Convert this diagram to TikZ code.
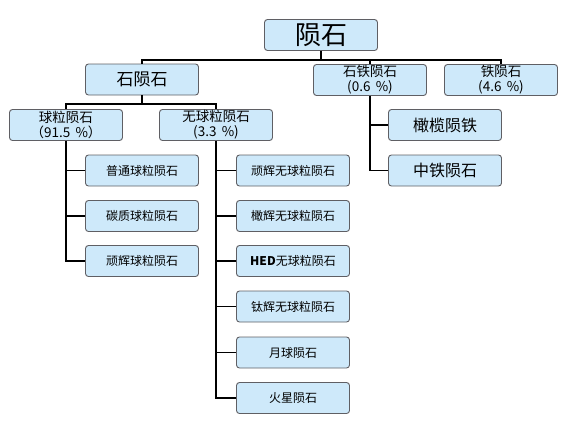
\documentclass[tikz,border=0pt]{standalone}
\usepackage{fontspec}
\setmainfont{Noto Sans CJK SC}
\usepackage{tikz}
\definecolor{boxfill}{RGB}{206,233,250}
\definecolor{boxline}{RGB}{95,95,100}
\tikzset{
  box/.style={draw=boxline, fill=boxfill, rounded corners=3pt, line width=0.9pt,
    minimum width=113pt, minimum height=31pt, inner sep=1pt, align=center},
  link/.style={line width=1.7pt, black}
}

\begin{document}
\begin{tikzpicture}[x=1pt, y=-1pt]
  \useasboundingbox (0,0) rectangle (576,432);

  \node[box, font=\fontsize{26}{26}\selectfont]
    (root) at (321, 35) {陨石};

  \node[box, font=\fontsize{17}{17}\selectfont]
    (stone) at (142, 79.5) {石陨石};
  \node[box, font=\fontsize{13.5}{15}\selectfont]
    (stoneiron) at (370, 80) {石铁陨石\\(0.6 \,\%)};
  \node[box, font=\fontsize{13.5}{15}\selectfont]
    (iron) at (501, 80) {铁陨石\\(4.6 \,\%)};

  \node[box, font=\fontsize{13.5}{15}\selectfont]
    (chond) at (66, 125) {球粒陨石\\（91.5 \,\%）};
  \node[box, font=\fontsize{13.5}{15}\selectfont]
    (achond) at (216, 125) {无球粒陨石\\(3.3 \,\%)};

  % chondrites
  \node[box, font=\fontsize{12}{12}\selectfont]
    (ordinary) at (142, 170.5) {普通球粒陨石};
  \node[box, font=\fontsize{12}{12}\selectfont]
    (carbon) at (142, 216) {碳质球粒陨石};
  \node[box, font=\fontsize{12}{12}\selectfont]
    (enstatite) at (142, 261) {顽辉球粒陨石};

  % achondrites
  \node[box, font=\fontsize{12}{12}\selectfont]
    (aubrite) at (293, 170.5) {顽辉无球粒陨石};
  \node[box, font=\fontsize{12}{12}\selectfont]
    (ureilite) at (293, 216) {橄辉无球粒陨石};
  \node[box, font=\fontsize{12}{12}\selectfont]
    (hed) at (293, 261) {\textbf{HED}无球粒陨石};
  \node[box, font=\fontsize{12}{12}\selectfont]
    (angrite) at (293, 306.5) {钛辉无球粒陨石};
  \node[box, font=\fontsize{12}{12}\selectfont]
    (lunar) at (293, 352.5) {月球陨石};
  \node[box, font=\fontsize{12}{12}\selectfont]
    (martian) at (293, 398) {火星陨石};

  % stony-irons
  \node[box, font=\fontsize{16}{16}\selectfont]
    (pallasite) at (445, 125) {橄榄陨铁};
  \node[box, font=\fontsize{16}{16}\selectfont]
    (mesosid) at (445, 170.5) {中铁陨石};

  \coordinate (J0) at (321, 60);
  \coordinate (J1) at (142, 104);

  \draw[link]
    (root) -- (J0) -| (stone)
    (J0) -| (stoneiron)
    (J0) -| (iron);

  \draw[link]
    (stone) -- (J1) -| (chond)
    (J1) -| (achond);

  \draw[link]
    (chond) |- (ordinary)
    (chond) |- (carbon)
    (chond) |- (enstatite);

  \draw[link]
    (achond) |- (aubrite)
    (achond) |- (ureilite)
    (achond) |- (hed)
    (achond) |- (angrite)
    (achond) |- (lunar)
    (achond) |- (martian);

  \draw[link]
    (stoneiron) |- (pallasite)
    (stoneiron) |- (mesosid);
\end{tikzpicture}
\end{document}
